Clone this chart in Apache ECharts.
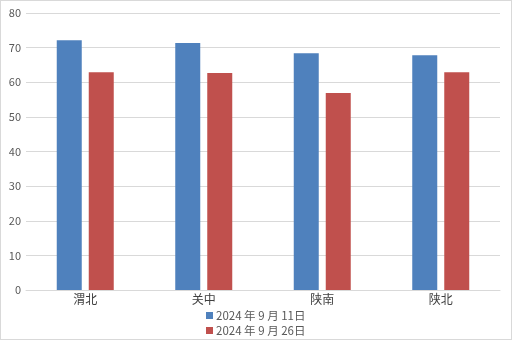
<!DOCTYPE html>
<html><head><meta charset="utf-8">
<script src="https://cdn.jsdelivr.net/npm/echarts@6/dist/echarts.min.js"></script>
<style>html,body{margin:0;padding:0;background:#fff}#c{width:510px;height:338px;border:1px solid #d9d9d9}</style>
</head><body><div id="c"></div>
<script>
const categories = ['渭北', '关中', '陕南', '陕北'];
const seriesNames = ['2024 年 9 月 11日', '2024 年 9 月 26日'];
const values1 = [72.1, 71.3, 68.4, 67.8];
const values2 = [62.9, 62.7, 56.9, 62.9];
const yTicks = [0, 10, 20, 30, 40, 50, 60, 70, 80];

const font = '"Noto Sans CJK SC", "Noto Sans", sans-serif';
const chart = echarts.init(document.getElementById('c'));
chart.setOption({
  animation: false,
  textStyle: {fontFamily: font},
  grid: {left: 25, right: 11, top: 12, bottom: 49},
  legend: {
    orient: 'vertical', left: 205, top: 308, padding: 0,
    itemWidth: 7, itemHeight: 7, itemGap: 2, icon: 'rect',
    textStyle: {fontSize: 11.5, color: '#595959', fontFamily: font, padding: [0, 0, 0, -2], lineHeight: 13},
    data: seriesNames
  },
  xAxis: {
    type: 'category', data: categories,
    axisLine: {lineStyle: {color: '#d9d9d9'}},
    axisTick: {show: false},
    axisLabel: {fontSize: 12, color: '#404040', margin: 3, fontFamily: font}
  },
  yAxis: {
    type: 'value', min: yTicks[0], max: yTicks[yTicks.length - 1], interval: 10,
    axisLine: {show: false}, axisTick: {show: false},
    axisLabel: {fontSize: 11, color: '#595959', margin: 5, fontFamily: font},
    splitLine: {lineStyle: {color: '#d9d9d9'}}
  },
  series: [
    {name: seriesNames[0], type: 'bar', data: values1, barWidth: 25, barGap: '28%',
     itemStyle: {color: '#4f81bd'}},
    {name: seriesNames[1], type: 'bar', data: values2, barWidth: 25, barGap: '28%',
     itemStyle: {color: '#c0504d'}}
  ]
});
</script></body></html>
